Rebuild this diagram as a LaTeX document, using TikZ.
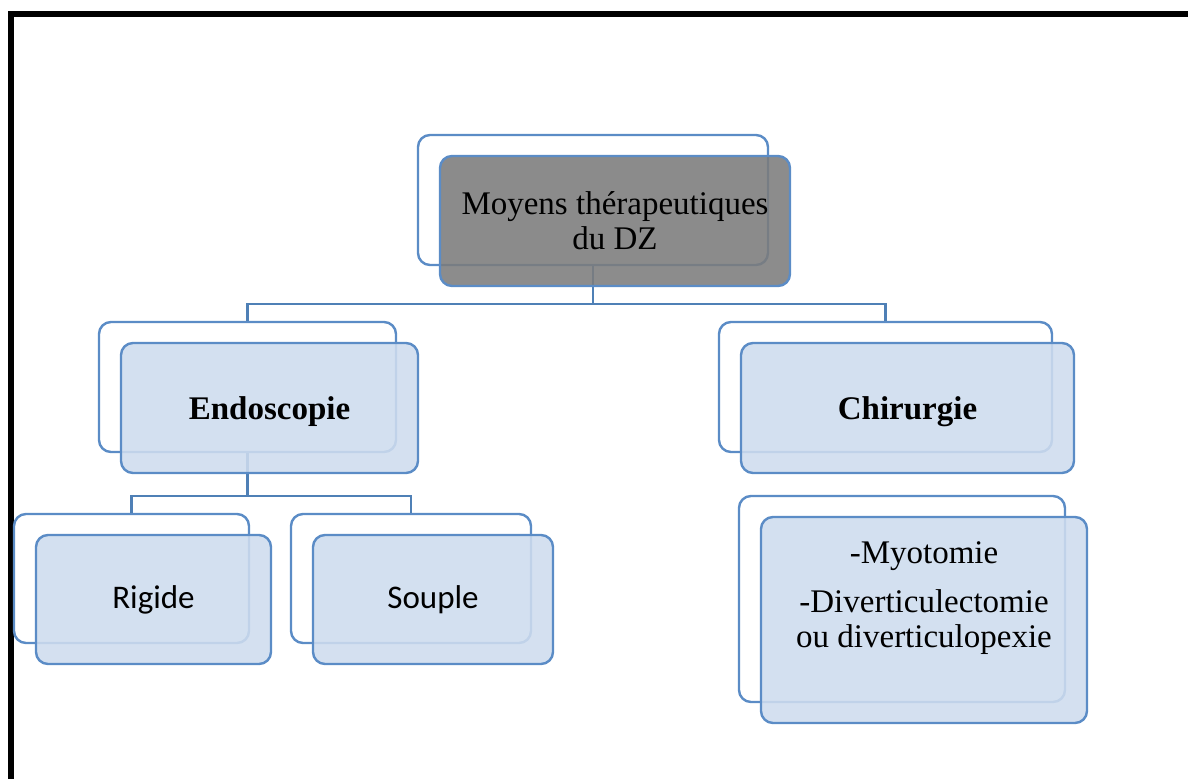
\documentclass[tikz,border=0pt]{standalone}
\usepackage{fontspec}
\setmainfont{Liberation Serif}
\newfontfamily\calibrifont{Carlito}
\usetikzlibrary{positioning,calc}
\definecolor{boxline}{HTML}{5B8CC6}
\definecolor{linkline}{HTML}{4F80B6}
\definecolor{lightfill}{HTML}{CEDCEE}
\definecolor{darkfill}{HTML}{7C7C7C}

\begin{document}
\begin{tikzpicture}[
  x=0.5pt, y=-0.5pt,
  font=\fontsize{16.5}{17.5}\selectfont,
  back/.style={draw=boxline, line width=1.2pt, rounded corners=6pt, fill=white, inner sep=0pt},
  front/.style={back, fill=lightfill, fill opacity=0.88, text opacity=1, align=center, xshift=11pt, yshift=-10.5pt},
  toplevel/.style={front, fill=darkfill},
  link/.style={draw=linkline, line width=1.1pt},
  frame/.style={line width=3pt, black},
]
\useasboundingbox (0,0) rectangle (1188,779);

% ---------------- outer frame ----------------
\draw[frame] (11,779) -- (11,14) -- (1188,14);

% ---------------- back boxes ----------------
\node[back, minimum width=175pt, minimum height=65pt] (rootback) at (593,200) {};
\node[back, minimum width=148.5pt, minimum height=65pt] (endoback) at (247.5,387) {};
\node[back, minimum width=166.5pt, minimum height=65pt] (chirback) at (885.5,387) {};
\node[back, minimum width=117.5pt, minimum height=64.5pt] (rigback) at (131.5,578.5) {};
\node[back, minimum width=120pt, minimum height=64.5pt] (soupback) at (411,578.5) {};
\node[back, minimum width=163pt, minimum height=103pt] (opback) at (902,599) {};

% ---------------- connectors ----------------
\draw[link] (rootback.south) -- ++(0,38) -| (endoback.north);
\draw[link] (rootback.south) -- ++(0,38) -| (chirback.north);
\draw[link] (endoback.south) -- ++(0,43) -| (rigback.north);
\draw[link] (endoback.south) -- ++(0,43) -| (soupback.north);

% ---------------- front boxes ----------------
\node[toplevel, minimum width=175pt, minimum height=65pt] (root) at (rootback) {Moyens th\'erapeutiques\\du DZ};
\node[front, minimum width=148.5pt, minimum height=65pt, text depth=0pt] (endo) at (endoback) {\textbf{Endoscopie}};
\node[front, minimum width=166.5pt, minimum height=65pt, text depth=0pt] (chir) at (chirback) {\textbf{Chirurgie}};
\node[front, minimum width=117.5pt, minimum height=64.5pt, font=\calibrifont\fontsize{16.5}{18}\selectfont] (rig) at (rigback) {Rigide};
\node[front, minimum width=120pt, minimum height=64.5pt, font=\calibrifont\fontsize{16.5}{18}\selectfont] (soup) at (soupback) {Souple};
\node[front, minimum width=163pt, minimum height=103pt, text depth=25.5pt] (ops) at (opback)
  {-Myotomie\\[7pt]-Diverticulectomie\\ou diverticulopexie};

\end{tikzpicture}
\end{document}
